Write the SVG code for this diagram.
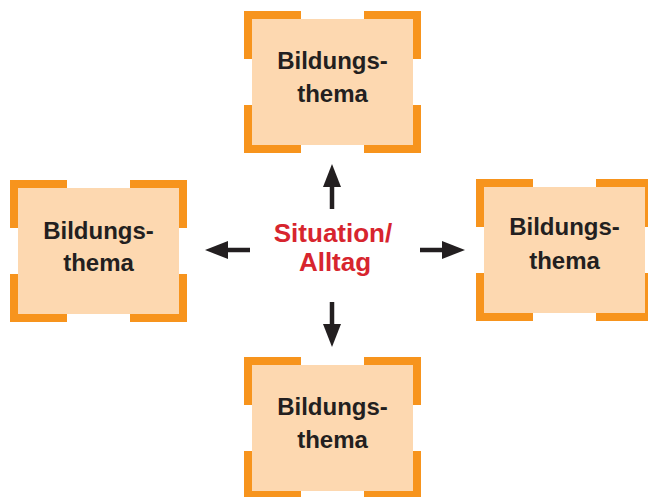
<svg xmlns="http://www.w3.org/2000/svg" width="648" height="497" viewBox="0 0 648 497">
<defs>
<style>
.fill{fill:#fdd8b0}
.br{fill:none;stroke:#f7941d;stroke-width:8;stroke-linecap:butt;stroke-linejoin:miter}
.lbl{font-family:"Liberation Sans",Arial,sans-serif;font-weight:bold;font-size:24px;fill:#231f20;text-anchor:middle}
.ctr{font-family:"Liberation Sans",Arial,sans-serif;font-weight:bold;font-size:26px;fill:#d7252e;text-anchor:middle}
.arr{stroke:#231f20;stroke-width:4.5;fill:none}
</style>
<marker id="ah" markerUnits="userSpaceOnUse" markerWidth="23" markerHeight="18" refX="0" refY="9" orient="auto">
<path d="M0,0 L23,9 L0,18 z" fill="#231f20"/>
</marker>
</defs>
<rect width="648" height="497" fill="#ffffff"/>
<g id="connectors">
<line class="arr" x1="332" y1="209" x2="332" y2="187" marker-end="url(#ah)"/>
<line class="arr" x1="332" y1="302" x2="332" y2="324" marker-end="url(#ah)"/>
<line class="arr" x1="250" y1="250" x2="228" y2="250" marker-end="url(#ah)"/>
<line class="arr" x1="420" y1="250" x2="442" y2="250" marker-end="url(#ah)"/>
</g>
<g id="center">
<text class="ctr" x="333" y="242">Situation/</text>
<text class="ctr" x="335" y="271">Alltag</text>
</g>
<g id="node-top" transform="translate(244,11)">
<rect class="fill" x="8" y="8" width="161" height="126"/>
<path class="br" d="M4,48 V4 H57 M120,4 H173 V48 M4,94 V138 H57 M120,138 H173 V94"/>
<text class="lbl" x="88.5" y="58">Bildungs-</text>
<text class="lbl" x="88.5" y="91">thema</text>
</g>
<g id="node-left" transform="translate(10,180)">
<rect class="fill" x="8" y="8" width="161" height="126"/>
<path class="br" d="M4,48 V4 H57 M120,4 H173 V48 M4,94 V138 H57 M120,138 H173 V94"/>
<text class="lbl" x="88.5" y="59">Bildungs-</text>
<text class="lbl" x="88.5" y="91">thema</text>
</g>
<g id="node-right" transform="translate(476,179)">
<rect class="fill" x="8" y="8" width="161" height="126"/>
<path class="br" d="M4,48 V4 H57 M120,4 H173 V48 M4,94 V138 H57 M120,138 H173 V94"/>
<text class="lbl" x="88.5" y="56">Bildungs-</text>
<text class="lbl" x="88.5" y="90">thema</text>
</g>
<g id="node-bottom" transform="translate(244,357)">
<rect class="fill" x="8" y="8" width="161" height="126"/>
<path class="br" d="M4,48 V4 H57 M120,4 H173 V48 M4,94 V138 H57 M120,138 H173 V94"/>
<text class="lbl" x="88.5" y="58">Bildungs-</text>
<text class="lbl" x="88.5" y="91">thema</text>
</g>
</svg>
